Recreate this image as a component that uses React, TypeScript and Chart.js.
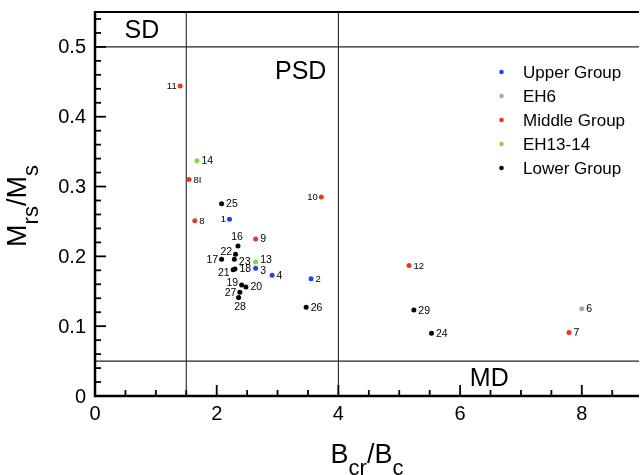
import React, { useEffect, useRef } from "react";
import { Chart, registerables } from "chart.js";

Chart.register(...registerables);

const FONT = '"Liberation Sans", Arial, Helvetica, sans-serif';

// ---- data ----
const groupNames = ["Upper Group", "EH6", "Middle Group", "EH13-14", "Lower Group"];
const groupColors = ["#2340f2", "#a9a9a9", "#e8391d", "#7fdc3c", "#000000"];

const upperIds = ["1", "2", "3", "4"];
const upperX = [2.21, 3.55, 2.64, 2.91];
const upperY = [0.253, 0.168, 0.183, 0.173];

const eh6Ids = ["6"];
const eh6X = [8.0];
const eh6Y = [0.125];

const middleIds = ["7", "8", "8I", "9", "10", "11", "12"];
const middleX = [7.79, 1.64, 1.545, 2.64, 3.72, 1.4, 5.16];
const middleY = [0.091, 0.251, 0.31, 0.225, 0.285, 0.444, 0.187];

const eh1314Ids = ["13", "14"];
const eh1314X = [2.64, 1.675];
const eh1314Y = [0.192, 0.337];

const lowerIds = ["16", "17", "18", "19", "20", "21", "22", "23", "24", "25", "26", "27", "28", "29"];
const lowerX = [2.35, 2.08, 2.3, 2.41, 2.48, 2.27, 2.31, 2.29, 5.53, 2.08, 3.47, 2.38, 2.36, 5.24];
const lowerY = [0.215, 0.196, 0.182, 0.159, 0.156, 0.181, 0.203, 0.196, 0.09, 0.2755, 0.127, 0.1485, 0.141, 0.123];

const xTickLabels = ["0", "2", "4", "6", "8"];
const yTickLabels = ["0", "0.1", "0.2", "0.3", "0.4", "0.5"];

// domain boundaries
const vLines = [1.5, 4];
const hLines = [0.5, 0.05];

// domain names
const regionText = ["SD", "PSD", "MD"];
const regionX = [0.77, 3.38, 6.48];
const regionY = [0.5125, 0.454, 0.0143];

// label placement (side of the point the number sits on)
const labelSide: Record<string, string> = {
  "1": "l", "10": "l", "11": "l", "17": "l", "21": "l+", "22": "l-", "19": "l-", "27": "l",
  "16": "a", "28": "b", "13": "r-", "3": "r+", "23": "r+",
};
const smallLabels = ["11", "8", "8I", "10", "1", "2", "12"];

const xTitle = [["B", 0], ["cr", 1], ["/B", 0], ["c", 1]] as [string, number][];
const yTitle = [["M", 0], ["rs", 1], ["/M", 0], ["s", 1]] as [string, number][];

const groupIds = [upperIds, eh6Ids, middleIds, eh1314Ids, lowerIds];
const groupX = [upperX, eh6X, middleX, eh1314X, lowerX];
const groupY = [upperY, eh6Y, middleY, eh1314Y, lowerY];

function drawTitle(ctx: CanvasRenderingContext2D, parts: [string, number][], main: number, sub: number, shift: number) {
  let total = 0;
  for (const [t, s] of parts) {
    ctx.font = `${s ? sub : main}px ${FONT}`;
    total += ctx.measureText(t).width;
  }
  let pos = -total / 2;
  ctx.textAlign = "left";
  ctx.textBaseline = "alphabetic";
  for (const [t, s] of parts) {
    ctx.font = `${s ? sub : main}px ${FONT}`;
    ctx.fillText(t, pos, s ? shift : 0);
    pos += ctx.measureText(t).width;
  }
}

const decor = {
  id: "decor",
  beforeDatasetsDraw(chart: any) {
    const { ctx, chartArea: a, scales } = chart;
    const x = scales.x;
    const y = scales.y;
    ctx.save();
    const line = (x1: number, y1: number, x2: number, y2: number) => {
      ctx.beginPath();
      ctx.moveTo(x1, y1);
      ctx.lineTo(x2, y2);
      ctx.stroke();
    };
    ctx.strokeStyle = "#222";
    ctx.lineWidth = 1.1;
    for (const v of vLines) {
      const px = x.getPixelForValue(v);
      line(px, a.top, px, a.bottom);
    }
    for (const v of hLines) {
      const py = y.getPixelForValue(v);
      line(a.left, py, a.right, py);
    }
    // ticks (inward)
    ctx.strokeStyle = "#000";
    ctx.lineWidth = 1.8;
    for (let v = 0.5; v < x.max; v += 0.5) {
      const px = x.getPixelForValue(v);
      const major = Math.abs(v / 2 - Math.round(v / 2)) < 1e-6;
      line(px, a.bottom, px, a.bottom - (major ? 11 : 6));
    }
    for (let i = 1; i * 0.02 < y.max - 1e-9; i++) {
      const v = i * 0.02;
      const py = y.getPixelForValue(v);
      const major = i % 5 === 0;
      line(a.left, py, a.left + (major ? 11 : 6), py);
    }
    // frame
    ctx.lineWidth = 2;
    line(a.left - 1, a.top, a.right, a.top);
    ctx.lineWidth = 2.5;
    line(a.left, a.top - 1, a.left, a.bottom + 1.25);
    line(a.left, a.bottom, a.right, a.bottom);
    // tick labels from the scales' own ticks
    ctx.fillStyle = "#000";
    ctx.font = `20px ${FONT}`;
    ctx.textAlign = "center";
    ctx.textBaseline = "middle";
    x.ticks.forEach((t: any, i: number) => {
      ctx.fillText(xTickLabels[i], x.getPixelForValue(t.value), a.bottom + 18);
    });
    ctx.textAlign = "right";
    y.ticks.forEach((t: any, i: number) => {
      ctx.fillText(yTickLabels[i], a.left - 9, y.getPixelForValue(t.value) + 1);
    });
    ctx.restore();
  },
  afterDatasetsDraw(chart: any) {
    const { ctx, chartArea: a, scales } = chart;
    const x = scales.x;
    const y = scales.y;
    ctx.save();
    ctx.fillStyle = "#000";
    // point labels
    chart.data.datasets.forEach((ds: any, di: number) => {
      const ids = groupIds[di];
      ds.data.forEach((p: any, i: number) => {
        const id = ids[i];
        const px = x.getPixelForValue(p.x);
        const py = y.getPixelForValue(p.y);
        const side = labelSide[id] || "r";
        const size = smallLabels.includes(id) ? 9.5 : 10.5;
        ctx.font = `${size}px ${FONT}`;
        ctx.textBaseline = "middle";
        let dy = 0;
        if (side.endsWith("+")) dy = 2.5;
        if (side.endsWith("-")) dy = -2.5;
        if (side[0] === "r") {
          ctx.textAlign = "left";
          ctx.fillText(id, px + 4.5, py + dy + 0.5);
        } else if (side[0] === "l") {
          ctx.textAlign = "right";
          ctx.fillText(id, px - 3.5, py + dy + 0.5);
        } else if (side[0] === "a") {
          ctx.textAlign = "center";
          ctx.fillText(id, px - 1, py - 9);
        } else {
          ctx.textAlign = "center";
          ctx.fillText(id, px + 1.5, py + 9.5);
        }
      });
    });
    // domain names
    ctx.font = `25px ${FONT}`;
    ctx.textAlign = "center";
    ctx.textBaseline = "alphabetic";
    regionText.forEach((t, i) => {
      ctx.fillText(t, x.getPixelForValue(regionX[i]), y.getPixelForValue(regionY[i]));
    });
    // legend
    ctx.font = `17px ${FONT}`;
    ctx.textAlign = "left";
    ctx.textBaseline = "middle";
    chart.data.datasets.forEach((ds: any, i: number) => {
      const ly = 72 + i * 24;
      ctx.fillStyle = ds.backgroundColor;
      ctx.beginPath();
      ctx.arc(501.5, ly, 2.3, 0, Math.PI * 2);
      ctx.fill();
      ctx.fillStyle = "#000";
      ctx.fillText(ds.label, 523, ly + 1);
    });
    // axis titles
    ctx.save();
    ctx.translate((a.left + a.right) / 2, 463);
    drawTitle(ctx, xTitle, 27, 22, 12);
    ctx.restore();
    ctx.save();
    ctx.translate(26, (a.top + a.bottom) / 2 + 2);
    ctx.rotate(-Math.PI / 2);
    drawTitle(ctx, yTitle, 27, 22, 12);
    ctx.restore();
    ctx.restore();
  },
};

export default function App() {
  const ref = useRef<HTMLCanvasElement | null>(null);
  useEffect(() => {
    if (!ref.current) return;
    const datasets = groupNames.map((name, g) => ({
      label: name,
      data: groupX[g].map((v, i) => ({ x: v, y: groupY[g][i] })),
      backgroundColor: groupColors[g],
      borderColor: groupColors[g],
      pointRadius: 2.5,
      pointBorderWidth: 0,
      showLine: false,
    }));
    const chart = new Chart(ref.current, {
      type: "scatter",
      data: { datasets },
      options: {
        animation: false,
        responsive: true,
        maintainAspectRatio: false,
        layout: { padding: { top: 12, right: 0, left: 0, bottom: 0 } },
        plugins: { legend: { display: false }, tooltip: { enabled: false } },
        scales: {
          x: {
            type: "linear",
            min: 0,
            max: 8.94,
            border: { display: false },
            grid: { display: false },
            ticks: { stepSize: 2, includeBounds: false, display: false },
            afterFit: (s: any) => {
              s.height = 79;
            },
          },
          y: {
            type: "linear",
            min: 0,
            max: 0.55,
            border: { display: false },
            grid: { display: false },
            ticks: { stepSize: 0.1, includeBounds: false, display: false },
            afterFit: (s: any) => {
              s.width = 95;
            },
          },
        },
      },
      plugins: [decor],
    } as any);
    return () => chart.destroy();
  }, []);
  return (
    <div style={{ position: "absolute", left: 0, top: 0, width: 643, height: 475, background: "#fff" }}>
      <canvas ref={ref} />
    </div>
  );
}
